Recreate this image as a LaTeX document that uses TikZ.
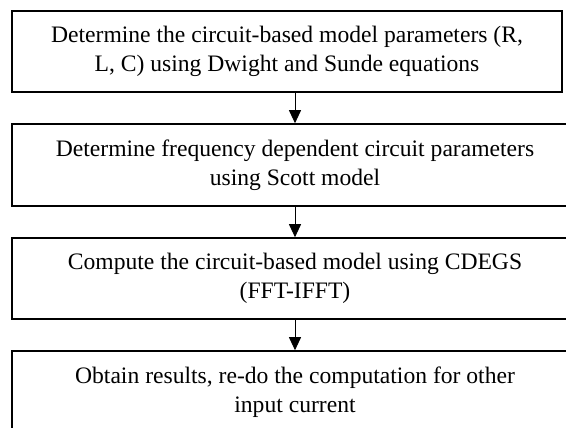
\documentclass[tikz,border=0pt]{standalone}
\usepackage{fontspec}
\setmainfont{Liberation Serif}
\usetikzlibrary{arrows.meta}

\tikzset{
  stepbox/.style={draw, line width=1.6pt, align=center, font=\fontsize{23.6}{29.5}\selectfont, inner sep=0pt},
  flow/.style={line width=0.9pt, -{Triangle[width=12pt,length=13pt]}}
}

\begin{document}
\begin{tikzpicture}[x=1pt,y=-1pt]
  \useasboundingbox (0,0) rectangle (566,428);
  \clip (0,0) rectangle (566,428);
  \node[stepbox, minimum width=550pt, minimum height=81pt] (params) at (287,51.5)
    {Determine the circuit-based model parameters (R,\\ L, C) using Dwight and Sunde equations};
  \node[stepbox, minimum width=566pt, minimum height=82pt] (freq) at (295,165)
    {Determine frequency dependent circuit parameters\\ using Scott model};
  \node[stepbox, minimum width=566pt, minimum height=81pt] (cdegs) at (295,278.5)
    {Compute the circuit-based model using CDEGS\\ (FFT-IFFT)};
  \node[stepbox, minimum width=566pt, minimum height=82pt] (results) at (295,392)
    {Obtain results, re-do the computation for other\\ input current};
  \draw[flow] (freq.north |- params.south) -- (freq.north);
  \draw[flow] (freq.south) -- (cdegs.north);
  \draw[flow] (cdegs.south) -- (results.north);
\end{tikzpicture}
\end{document}
